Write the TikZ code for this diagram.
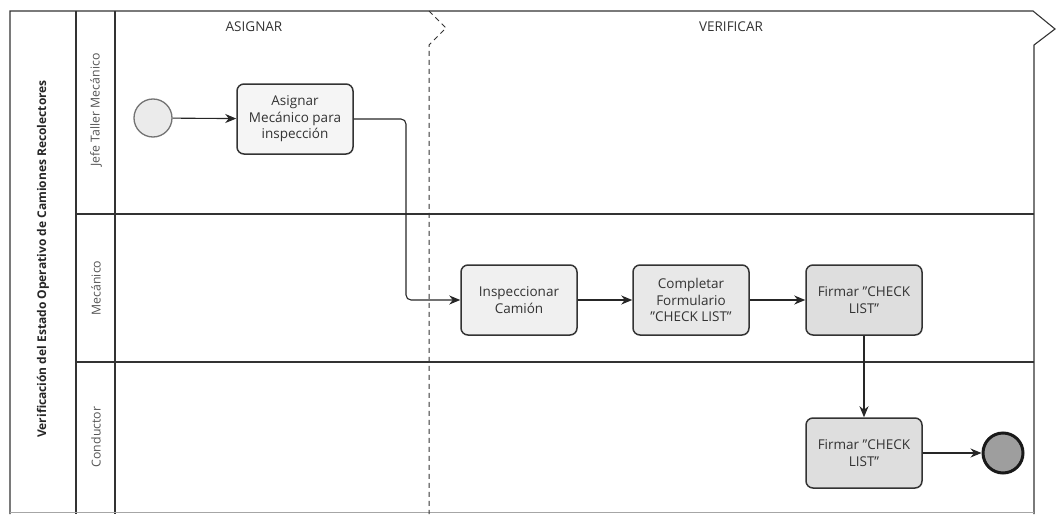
\documentclass[tikz,border=0pt]{standalone}
\usepackage{fontspec}
\setmainfont{Open Sans}
\usetikzlibrary{arrows.meta}

\definecolor{linegray}{HTML}{333333}
\definecolor{textgray}{HTML}{333333}
\definecolor{lanetext}{HTML}{555555}

\tikzset{
  frame/.style={draw=linegray, line width=1.1pt},
  phaseline/.style={draw=linegray, line width=1pt, dash pattern=on 5pt off 4pt},
  task/.style={draw=linegray, line width=1.5pt, rounded corners=7pt,
    minimum width=116pt, minimum height=70pt, align=center,
    text=textgray, font=\fontsize{13.5}{16.5}\selectfont, inner sep=2pt},
  flow/.style={draw=black!85, line width=1.1pt, rounded corners=5pt,
    -{Stealth[length=11pt,width=9pt,inset=3.5pt]}},
  lanelabel/.style={rotate=90, text=lanetext, font=\fontsize{12.3}{14}\selectfont},
  phaselabel/.style={text=textgray, font=\fontsize{13.5}{16}\selectfont},
}

\begin{document}
\begin{tikzpicture}[x=1pt, y=-1pt]
  \useasboundingbox (0,0) rectangle (1057,514);

  % pool outline with the open chevron on the right
  \draw[frame] (1034,514) -- (1034,45) -- (1055,29) -- (1033,11) -- (10,11) -- (10,514);
  \draw[frame] (76,11) -- (76,514);
  \draw[frame] (115,11) -- (115,514);
  \draw[draw=black!35, line width=0.6pt] (10,512) -- (1034,512);

  % lane dividers
  \draw[frame] (76,214) -- (1034,214);
  \draw[frame] (76,362) -- (1034,362);

  % phase boundary
  \draw[phaseline] (429,11) -- (446,28) -- (429,45) -- (429,514);

  % pool and lane titles
  \node[rotate=90, text=black!85, font=\bfseries\fontsize{12}{14}\selectfont] (pool) at (43,259)
    {Verificación del Estado Operativo de Camiones Recolectores};
  \node[lanelabel] (laneA) at (96,110) {Jefe Taller Mecánico};
  \node[lanelabel] (laneB) at (96,288) {Mecánico};
  \node[lanelabel] (laneC) at (96,437) {Conductor};

  % phase titles
  \node[phaselabel] (phA) at (254,27) {ASIGNAR};
  \node[phaselabel] (phB) at (731,27) {VERIFICAR};

  % events
  \node[circle, draw=black!55, line width=1.3pt, fill=black!8, minimum size=38pt, inner sep=0pt]
    (start) at (153,118) {};
  \node[circle, draw=black!90, line width=3pt, fill=black!38, minimum size=40pt, inner sep=0pt]
    (stop) at (1003,453) {};

  % tasks
  \node[task, fill=black!4] (asignar) at (295,119) {Asignar\\Mecánico para\\inspección};
  \node[task, fill=black!6] (inspec) at (519,300) {Inspeccionar\\Camión};
  \node[task, fill=black!9] (complet) at (691,300) {Completar\\Formulario\\"CHECK LIST"};
  \node[task, fill=black!13] (firmaA) at (864,300) {Firmar "CHECK\\LIST"};
  \node[task, fill=black!13] (firmaB) at (864,453) {Firmar "CHECK\\LIST"};

  % sequence flows
  \draw[flow] (start) -- (asignar);
  \draw[flow] (asignar.east) -- (406,119) -- (406,300) -- (inspec.west);
  \draw[flow] (inspec) -- (complet);
  \draw[flow] (complet) -- (firmaA);
  \draw[flow] (firmaA) -- (firmaB);
  \draw[flow] (firmaB) -- (stop);
\end{tikzpicture}
\end{document}
